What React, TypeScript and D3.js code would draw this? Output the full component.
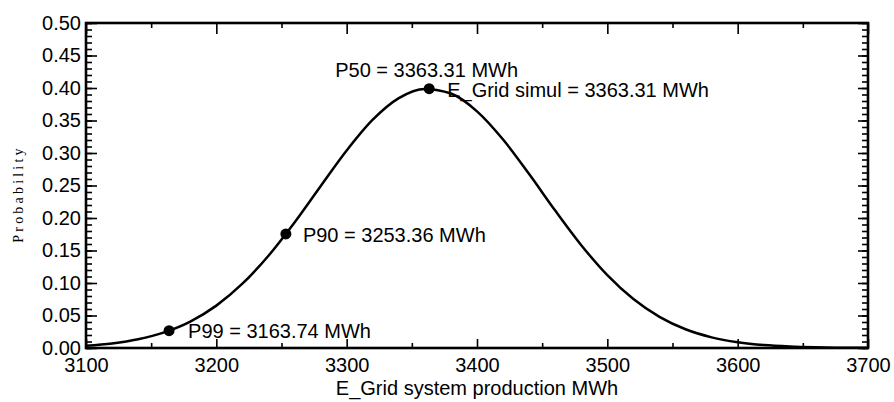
import * as d3 from "d3";
import React, { useEffect, useRef } from "react";

// curve, every 20 MWh
const energy = [
  3100, 3120, 3140, 3160, 3180, 3200, 3220, 3240, 3260, 3280, 3300, 3320, 3340,
  3360, 3380, 3400, 3420, 3440, 3460, 3480, 3500, 3520, 3540, 3560, 3580, 3600,
  3620, 3640, 3660, 3680, 3700,
];
const probability = [
  0.0036, 0.0071, 0.0135, 0.0241, 0.0407, 0.0652, 0.0989, 0.142, 0.1932,
  0.2489, 0.3038, 0.3512, 0.3845, 0.3986, 0.3915, 0.3641, 0.3207, 0.2676,
  0.2114, 0.1582, 0.1121, 0.0753, 0.0479, 0.0288, 0.0164, 0.0089, 0.0045,
  0.0022, 0.001, 0.0004, 0.0002,
];

const markerX = [3363.31, 3253.36, 3163.74];
const markerY = [0.3989, 0.1755, 0.0267];
const markerLabel = [
  "P50 = 3363.31 MWh",
  "P90 = 3253.36 MWh",
  "P99 = 3163.74 MWh",
];
const simulLabel = "E_Grid simul = 3363.31 MWh";

const xTicks = [3100, 3200, 3300, 3400, 3500, 3600, 3700];
const xMinor = [3150, 3250, 3350, 3450, 3550, 3650];
const yTicks = [0, 0.05, 0.1, 0.15, 0.2, 0.25, 0.3, 0.35, 0.4, 0.45, 0.5];
const yMinor = d3.range(0, 51).map((i) => i / 100);

const FONT = "'Liberation Sans', Arial, sans-serif";
const FS = 20;

export default function App() {
  const ref = useRef<SVGSVGElement>(null);

  useEffect(() => {
    document.body.style.margin = "0";
    const svg = d3.select(ref.current);
    svg.selectAll("*").remove();

    const W = 894;
    const H = 402;
    const margin = { top: 23, left: 86, right: 26, bottom: 54 };
    const width = W - margin.left - margin.right;
    const height = H - margin.top - margin.bottom;

    const x = d3.scaleLinear().domain([3100, 3700]).range([0, width]);
    const y = d3.scaleLinear().domain([0, 0.5]).range([height, 0]);

    const main = svg
      .append("g")
      .attr("transform", `translate(${margin.left}, ${margin.top})`);

    const styleAxis = (g: any) => {
      g.select(".domain").remove();
      g.selectAll("line").attr("stroke", "#000").attr("stroke-width", 1.6);
      g.selectAll("text")
        .attr("font-family", FONT)
        .attr("font-size", FS)
        .attr("fill", "#000");
    };

    // minor ticks
    main
      .append("g")
      .attr("transform", `translate(0, ${height})`)
      .call(d3.axisBottom(x).tickValues(xMinor).tickSize(-5).tickFormat(() => ""))
      .call(styleAxis);
    main
      .append("g")
      .call(d3.axisTop(x).tickValues(xMinor).tickSize(-5).tickFormat(() => ""))
      .call(styleAxis);
    main
      .append("g")
      .call(d3.axisLeft(y).tickValues(yMinor).tickSize(-6).tickFormat(() => ""))
      .call(styleAxis);
    main
      .append("g")
      .attr("transform", `translate(${width}, 0)`)
      .call(d3.axisRight(y).tickValues(yMinor).tickSize(-6).tickFormat(() => ""))
      .call(styleAxis);

    // major ticks
    main
      .append("g")
      .attr("transform", `translate(0, ${height})`)
      .call(
        d3
          .axisBottom(x)
          .tickValues(xTicks)
          .tickSize(-9)
          .tickPadding(10)
          .tickFormat(d3.format("d"))
      )
      .call(styleAxis);
    main
      .append("g")
      .call(d3.axisTop(x).tickValues(xTicks).tickSize(-11).tickFormat(() => ""))
      .call(styleAxis);
    main
      .append("g")
      .call(
        d3
          .axisLeft(y)
          .tickValues(yTicks)
          .tickSize(-11)
          .tickPadding(5)
          .tickFormat(d3.format(".2f"))
      )
      .call(styleAxis);
    main
      .append("g")
      .attr("transform", `translate(${width}, 0)`)
      .call(d3.axisRight(y).tickValues(yTicks).tickSize(-10).tickFormat(() => ""))
      .call(styleAxis);

    // frame
    main
      .append("rect")
      .attr("width", width)
      .attr("height", height)
      .attr("fill", "none")
      .attr("stroke", "#000")
      .attr("stroke-width", 2.6);

    // curve
    const pts = energy.map((e, i) => [e, probability[i]] as [number, number]);
    const line = d3
      .line<[number, number]>()
      .x((d) => x(d[0]))
      .y((d) => y(d[1]))
      .curve(d3.curveMonotoneX);
    main
      .append("path")
      .datum(pts)
      .attr("d", line)
      .attr("fill", "none")
      .attr("stroke", "#000")
      .attr("stroke-width", 2.5);

    // markers
    main
      .selectAll("circle.mark")
      .data(markerX)
      .enter()
      .append("circle")
      .attr("class", "mark")
      .attr("cx", (d) => x(d))
      .attr("cy", (d, i) => y(markerY[i]))
      .attr("r", 5.5)
      .attr("fill", "#000");

    const text = (s: string, tx: number, ty: number) =>
      main
        .append("text")
        .text(s)
        .attr("x", tx)
        .attr("y", ty)
        .attr("font-family", FONT)
        .attr("font-size", FS)
        .attr("fill", "#000");

    // P50 above the peak, P90 / P99 to the right of their dots
    text(markerLabel[0], x(markerX[0]) - 94, y(markerY[0]) - 12);
    text(simulLabel, x(markerX[0]) + 18, y(markerY[0]) + 8);
    text(markerLabel[1], x(markerX[1]) + 17, y(markerY[1]) + 8);
    text(markerLabel[2], x(markerX[2]) + 19, y(markerY[2]) + 7);

    // axis titles
    svg
      .append("text")
      .text("E_Grid system production MWh")
      .attr("x", margin.left + width / 2)
      .attr("y", 395)
      .attr("text-anchor", "middle")
      .attr("font-family", FONT)
      .attr("font-size", FS)
      .attr("fill", "#000");
    svg
      .append("text")
      .text("Probability")
      .attr("text-anchor", "middle")
      .attr("transform", `translate(23, 194) rotate(-90)`)
      .attr("font-family", "'Liberation Serif', 'Times New Roman', serif")
      .attr("font-size", 14)
      .attr("letter-spacing", 3.2)
      .attr("fill", "#000");
  }, []);

  return (
    <div>
      <svg ref={ref} width={894} height={402} style={{ display: "block", background: "#fff" }}></svg>
    </div>
  );
}
